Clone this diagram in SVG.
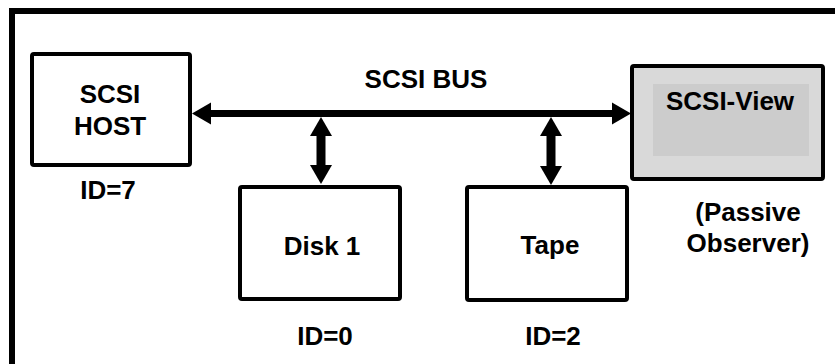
<svg xmlns="http://www.w3.org/2000/svg" width="835" height="364" viewBox="0 0 835 364">
<defs>
<style>
.box{fill:#ffffff;stroke:#000000;stroke-width:4}
.lbl{font-family:"Liberation Sans",Arial,Helvetica,sans-serif;font-weight:bold;font-size:26px;fill:#000000;text-anchor:middle}
.bus{stroke:#000000;stroke-width:7;fill:none}
.stub{stroke:#000000;stroke-width:9;fill:none}
</style>
<marker id="ah" markerUnits="userSpaceOnUse" markerWidth="20" markerHeight="24" viewBox="0 -12 20 24" refX="0" refY="0" orient="auto-start-reverse">
<path d="M0,-11 L19,0 L0,11 Z" fill="#000000"/>
</marker>
</defs>
<rect x="0" y="0" width="835" height="364" fill="#ffffff"/>
<rect id="frame" x="12" y="11" width="850" height="380" fill="none" stroke="#000000" stroke-width="6"/>
<g id="connectors">
<line class="bus" x1="211" y1="113.5" x2="612" y2="113.5" marker-start="url(#ah)" marker-end="url(#ah)"/>
<line class="stub" x1="321" y1="136" x2="321" y2="165" marker-start="url(#ah)" marker-end="url(#ah)"/>
<line class="stub" x1="551" y1="136" x2="551" y2="166" marker-start="url(#ah)" marker-end="url(#ah)"/>
</g>
<text class="lbl" x="426" y="88">SCSI BUS</text>
<g id="host">
<rect class="box" x="32" y="54" width="158" height="111" rx="2"/>
<text class="lbl" x="110" y="103">SCSI</text>
<text class="lbl" x="110" y="135">HOST</text>
<text class="lbl" x="108" y="199">ID=7</text>
</g>
<g id="disk1">
<rect class="box" x="240" y="187" width="160" height="112" rx="2"/>
<text class="lbl" x="322" y="255">Disk 1</text>
<text class="lbl" x="325" y="345">ID=0</text>
</g>
<g id="tape">
<rect class="box" x="467" y="187" width="160" height="113" rx="2"/>
<text class="lbl" x="550" y="254">Tape</text>
<text class="lbl" x="553" y="345">ID=2</text>
</g>
<g id="scsiview">
<rect class="box" x="632" y="66" width="191" height="113" rx="2" style="fill:#d9d9d9"/>
<rect x="653" y="84" width="156" height="72" fill="#cccccc"/>
<text class="lbl" x="730" y="110">SCSI-View</text>
<text class="lbl" x="748" y="221">(Passive</text>
<text class="lbl" x="748" y="252">Observer)</text>
</g>
</svg>
